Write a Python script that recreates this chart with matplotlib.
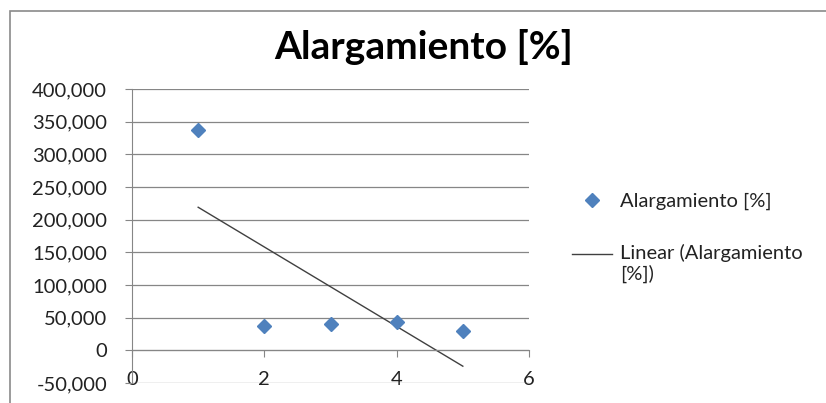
import numpy as np
import matplotlib
matplotlib.use("Agg")
import matplotlib.pyplot as plt
from matplotlib.ticker import FuncFormatter, MultipleLocator
from matplotlib.patches import Rectangle
from matplotlib.legend_handler import HandlerLine2D

plt.rcParams['font.family'] = ['Lato', 'DejaVu Sans']

# Data
x_vals = [1, 2, 3, 4, 5]
y_vals = [337000, 36800, 40000, 43400, 29600]
series_name = "Alargamiento [%]"
trend_name = "Linear (Alargamiento\n[%])"
title = "Alargamiento [%]"

fig = plt.figure(figsize=(8.26, 4.03), dpi=100)
W, H = 826, 403
ax = fig.add_axes([132 / W, 1 - 383 / H, (529 - 132) / W, (383 - 89) / H])

grey = "#868686"

# trendline (least squares fit from data)
coef = np.polyfit(x_vals, y_vals, 1)
tx = np.array([min(x_vals), max(x_vals)])
trend, = ax.plot(tx, np.polyval(coef, tx), color="#404040", lw=1.0, label=trend_name, zorder=2)
pts, = ax.plot(x_vals, y_vals, linestyle="none", marker="D", markersize=7.5,
               color="#4F81BD", markeredgecolor="#4F81BD", label=series_name, zorder=3)

ax.set_xlim(0, 6)
ax.set_ylim(-50000, 400000)
ax.xaxis.set_major_locator(MultipleLocator(2))
ax.yaxis.set_major_locator(MultipleLocator(50000))
ax.yaxis.set_major_formatter(FuncFormatter(lambda v, p: f"{int(round(v)):,}"))
ax.grid(axis="y", color=grey, lw=0.9)
ax.set_axisbelow(True)

for s in ["top", "right"]:
    ax.spines[s].set_visible(False)
ax.spines["bottom"].set_position(("data", 0))
ax.spines["bottom"].set_color(grey)
ax.spines["left"].set_color(grey)
ax.tick_params(axis="both", direction="out", length=5, color=grey, labelsize=14.5,
               labelcolor="#222222")
ax.tick_params(axis="y", pad=13)
ax.tick_params(axis="x", pad=10)

fig.text(424 / W, 1 - 47 / H, title, ha="center", va="center",
         fontsize=28, fontweight="bold", color="black")

# chart area border
fig.patches.append(Rectangle((10 / W, -0.5), 2.0, 1 - 11 / H + 0.5,
                             transform=fig.transFigure, fill=False,
                             edgecolor="#8a8a8a", lw=1.2))


class TopLineHandler(HandlerLine2D):
    """Align the legend line with the first text line (Excel style)."""
    def create_artists(self, legend, orig_handle, xdescent, ydescent, width,
                       height, fontsize, trans):
        arts = super().create_artists(legend, orig_handle, xdescent, ydescent,
                                      width, height, fontsize, trans)
        for a in arts:
            a.set_ydata(np.asarray(a.get_ydata()) + 0.45 * fontsize)
        return arts


leg = fig.legend([pts, trend], [series_name, trend_name], loc="upper left",
                 bbox_to_anchor=(554 / W, 1 - 175 / H), frameon=False,
                 fontsize=14.5, handlelength=2.0, handletextpad=0.4,
                 labelspacing=1.65, labelcolor="#222222",
                 handler_map={trend: TopLineHandler()})

fig.savefig("out.png", dpi=100)
